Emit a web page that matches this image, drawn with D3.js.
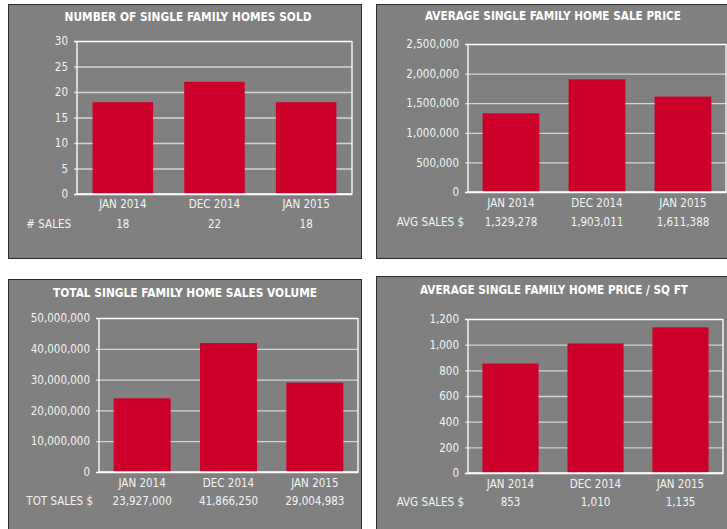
<!DOCTYPE html>
<html>
<head>
<meta charset="utf-8">
<script src="https://cdn.jsdelivr.net/npm/d3@7"></script>
<style>
  body { margin: 0; background: #fff; }
  text { font-family: 'DejaVu Sans Condensed', 'Liberation Sans Narrow', sans-serif; }
</style>
</head>
<body>
<div id="chart"></div>
<script>
const months = ["JAN 2014", "DEC 2014", "JAN 2015"];
const homesSold = [18, 22, 18];
const avgPrice = [1329278, 1903011, 1611388];
const totalVolume = [23927000, 41866250, 29004983];
const pricePerSqft = [853, 1010, 1135];

const ticksSold = [0, 5, 10, 15, 20, 25, 30];
const ticksPrice = [0, 500000, 1000000, 1500000, 2000000, 2500000];
const ticksVolume = [0, 10000000, 20000000, 30000000, 40000000, 50000000];
const ticksSqft = [0, 200, 400, 600, 800, 1000, 1200];

const width = 727, height = 529;
const grey = "#808080", red = "#cc0029", ink = "#f4f4f4";
const fmt = d3.format(",");

var svg = d3.select('#chart').append('svg')
    .attr("width", width)
    .attr("height", height);

// box = grey panel, plot = chart area inside it
const panels = [
  { title: "NUMBER OF SINGLE FAMILY HOMES SOLD", titleW: 247, values: homesSold, ticks: ticksSold, rowLabel: "# SALES",
    box: [8, 4, 353, 254], plot: [77, 352, 41, 194], titleX: 188, titleY: 21, catY: 208, rowY: 228, labelX: 71 },
  { title: "AVERAGE SINGLE FAMILY HOME SALE PRICE", titleW: 256, values: avgPrice, ticks: ticksPrice, rowLabel: "AVG SALES $",
    box: [376, 4, 360, 254], plot: [468, 726, 44, 192], titleX: 553, titleY: 20, catY: 207, rowY: 226, labelX: 464 },
  { title: "TOTAL SINGLE FAMILY HOME SALES VOLUME", titleW: 264, values: totalVolume, ticks: ticksVolume, rowLabel: "TOT SALES $",
    box: [8, 279, 353, 260], plot: [99, 358, 318, 472], titleX: 185, titleY: 297, catY: 487, rowY: 505, labelX: 93 },
  { title: "AVERAGE SINGLE FAMILY HOME PRICE / SQ FT", titleW: 268, values: pricePerSqft, ticks: ticksSqft, rowLabel: "AVG SALES $",
    box: [376, 276, 360, 260], plot: [468, 723, 319, 473], titleX: 554, titleY: 294, catY: 488, rowY: 506, labelX: 464 }
];

panels.forEach(drawPanel);

function drawPanel(p) {
  let g = svg.append("g");
  let [bx, by, bw, bh] = p.box;
  let [left, right, top, bottom] = p.plot;

  g.append("rect")
      .attr("x", bx + 0.5).attr("y", by + 0.5)
      .attr("width", bw).attr("height", bh)
      .attr("fill", grey)
      .attr("stroke", "#2b2b2b");

  g.append("text")
      .attr("x", p.titleX).attr("y", p.titleY)
      .attr("text-anchor", "middle")
      .attr("font-size", 13)
      .attr("font-weight", "bold")
      .attr("fill", "#fff")
      .attr("textLength", p.titleW)
      .attr("lengthAdjust", "spacingAndGlyphs")
      .text(p.title);

  const x = d3.scaleBand()
      .domain(months)
      .range([left, right])
      .paddingInner(0.34)
      .paddingOuter(0.17);

  const y = d3.scaleLinear()
      .domain([0, d3.max(p.ticks)])
      .range([bottom, top]);

  let yAxis = g.append("g")
      .attr("transform", "translate(" + left + ",0)")
      .call(d3.axisLeft(y).tickValues(p.ticks).tickFormat(fmt).tickSizeOuter(0).tickPadding(3));
  yAxis.select(".domain").remove();
  yAxis.selectAll(".tick line")
      .attr("x1", -3)
      .attr("x2", right - left)
      .attr("stroke", (d, i) => (d === 0 || i === p.ticks.length - 1) ? "#fff" : "#d4d4d4")
      .attr("stroke-width", 1.3);
  yAxis.selectAll(".tick text")
      .attr("fill", ink)
      .attr("font-size", 11.5)
      .style("font-family", "'DejaVu Sans Condensed', 'Liberation Sans Narrow', sans-serif");

  g.selectAll(".bar")
      .data(p.values)
      .join("rect")
      .attr("class", "bar")
      .attr("x", (d, i) => x(months[i]))
      .attr("width", x.bandwidth())
      .attr("y", d => y(d))
      .attr("height", d => bottom - y(d))
      .attr("fill", red);

  // white frame: left axis, right side and baseline
  g.append("path")
      .attr("d", d3.line()([[left, top], [left, bottom], [right, bottom], [right, top]]))
      .attr("fill", "none")
      .attr("stroke", "#fff")
      .attr("stroke-width", 1.3);

  g.selectAll(".cat")
      .data(months)
      .join("text")
      .attr("class", "cat")
      .attr("x", d => x(d) + x.bandwidth() / 2)
      .attr("y", p.catY)
      .attr("text-anchor", "middle")
      .attr("font-size", 11.5)
      .attr("fill", ink)
      .text(d => d);

  g.selectAll(".val")
      .data(p.values)
      .join("text")
      .attr("class", "val")
      .attr("x", (d, i) => x(months[i]) + x.bandwidth() / 2)
      .attr("y", p.rowY)
      .attr("text-anchor", "middle")
      .attr("font-size", 11.5)
      .attr("fill", ink)
      .text(d => fmt(d));

  g.append("text")
      .attr("x", p.labelX)
      .attr("y", p.rowY)
      .attr("text-anchor", "end")
      .attr("font-size", 11.5)
      .attr("fill", ink)
      .text(p.rowLabel);
}
</script>
</body>
</html>
